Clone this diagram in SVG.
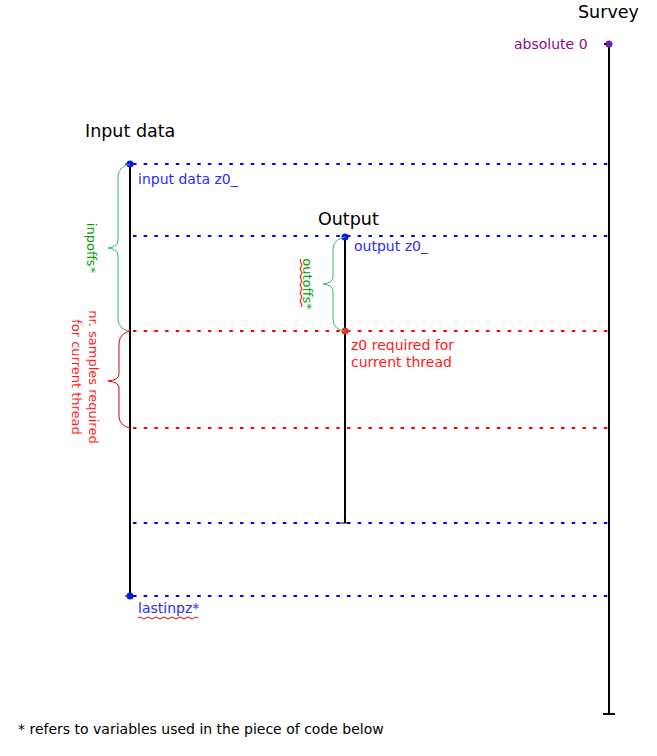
<svg xmlns="http://www.w3.org/2000/svg" width="657" height="756" viewBox="0 0 657 756">
<style>
text{font-family:"DejaVu Sans",sans-serif;font-size:14px}
.title{font-size:17.5px;fill:#000}
.rot{font-size:13px}
.axis{stroke:#000;stroke-width:2;fill:none}
.dotb{stroke:#0000ff;stroke-width:2;stroke-dasharray:3.5 7.2;fill:none}
.dotr{stroke:#ff0000;stroke-width:2;stroke-dasharray:3.5 7.2;fill:none}
.blue{fill:#2a2aff}
.red{fill:#ff1a1a}
.green{fill:#00a000}
.purple{fill:#8a0a8a}
.braceg{stroke:#33c060;stroke-width:1;fill:none}
.bracer{stroke:#e00000;stroke-width:1;fill:none}
.wavy{stroke:#e00000;stroke-width:1;fill:none}
</style>
<rect width="657" height="756" fill="#fff"/>
<g id="connectors">
<line class="dotb" x1="133" y1="164" x2="609" y2="164"/>
<line class="dotb" x1="133" y1="236" x2="609" y2="236"/>
<line class="dotr" x1="133" y1="331" x2="609" y2="331"/>
<line class="dotr" x1="133" y1="428" x2="609" y2="428"/>
<line class="dotb" x1="133" y1="523" x2="609" y2="523"/>
<line class="dotb" x1="133" y1="596" x2="609" y2="596"/>
</g>
<g id="survey">
<text class="title" x="578" y="18">Survey</text>
<line class="axis" x1="609" y1="44" x2="609" y2="714"/>
<line class="axis" x1="603" y1="714" x2="615" y2="714" stroke-width="1.5"/>
<line class="axis" x1="604" y1="44" x2="609" y2="44" stroke-width="1"/>
<circle cx="609" cy="44" r="3.5" fill="#6a1fb0"/>
<text class="purple" x="514" y="49">absolute 0</text>
</g>
<g id="input">
<text class="title" x="85" y="137">Input data</text>
<line class="axis" x1="130" y1="164" x2="130" y2="596"/>
<line x1="125" y1="164" x2="130" y2="164" stroke="#000" stroke-width="1"/>
<line x1="125" y1="596" x2="130" y2="596" stroke="#000" stroke-width="1"/>
<circle cx="130" cy="164" r="3.5" fill="#0a1ae0"/>
<circle cx="130" cy="596" r="3.5" fill="#0a1ae0"/>
<text class="blue" x="138" y="184">input data z0_</text>
<text class="blue" x="138" y="613">lastinpz*</text>
<path class="wavy" d="M138,618 q2,-2 4,0 t4,0 t4,0 t4,0 t4,0 t4,0 t4,0 t4,0 t4,0 t4,0 t4,0 t4,0 t4,0 t4,0 t4,0"/>
</g>
<g id="output">
<text class="title" x="318" y="225">Output</text>
<line class="axis" x1="345" y1="237" x2="345" y2="523"/>
<line x1="340" y1="523" x2="350" y2="523" stroke="#000" stroke-width="1"/>
<circle cx="345" cy="237" r="3.5" fill="#0a1ae0"/>
<circle cx="345" cy="331" r="3.5" fill="#e03030"/>
<text class="blue" x="354" y="251">output z0_</text>
<text class="red" x="351" y="350">z0 required for</text>
<text class="red" x="351" y="367">current thread</text>
</g>
<g id="inpoffs">
<path class="braceg" d="M130,164 Q119,166 118,176 L118,240 Q118,247 108,248 Q118,249 118,256 L118,320 Q119,330 130,331"/>
<text class="green rot" transform="translate(87,248) rotate(90)" text-anchor="middle">inpoffs*</text>
</g>
<g id="outoffs">
<path class="braceg" d="M345,237 Q334,239 333,248 L333,277 Q333,283 323,284 Q333,285 333,291 L333,320 Q334,330 345,331"/>
<text class="green rot" transform="translate(303,284) rotate(90)" text-anchor="middle">outoffs*</text>
<path class="wavy" d="M301,259 q-2,2 0,4 t0,4 t0,4 t0,4 t0,4 t0,4 t0,4 t0,4 t0,4 t0,4 t0,4 t0,4"/>
</g>
<g id="nrsamples">
<path class="bracer" d="M130,331 Q120,333 119,343 L119,374 Q119,380 108,381 Q119,382 119,388 L119,417 Q120,426 130,428"/>
<text class="red rot" transform="translate(89,377) rotate(90)" text-anchor="middle" font-size="12.5">nr. samples required</text>
<text class="red rot" transform="translate(72,377) rotate(90)" text-anchor="middle" font-size="12.5">for current thread</text>
</g>
<text x="18" y="734" fill="#000">* refers to variables used in the piece of code below</text>
</svg>
